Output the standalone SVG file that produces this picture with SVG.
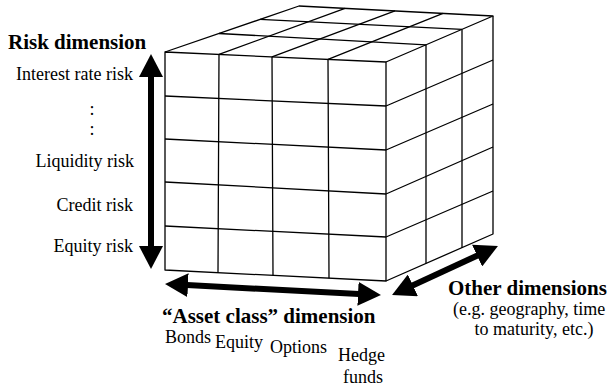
<svg xmlns="http://www.w3.org/2000/svg" width="610" height="389" viewBox="0 0 610 389">
<style>
  .g { fill: none; stroke: #000; stroke-width: 1.3; stroke-linejoin: round; }
  .t { font-family: 'Liberation Serif', 'DejaVu Serif', serif; font-size: 18px; font-weight: normal; fill: #000; }
  .b { font-family: 'Liberation Serif', 'DejaVu Serif', serif; font-size: 21px; font-weight: bold; fill: #000; }
  .a { stroke: #000; stroke-width: 6; fill: none; marker-start: url(#head); marker-end: url(#head); }
</style>
<defs>
  <marker id="head" viewBox="0 -12 23 24" refX="1" refY="0" markerWidth="23" markerHeight="24" markerUnits="userSpaceOnUse" orient="auto-start-reverse">
    <path d="M0,-12 L23,0 L0,12 z" fill="#000"/>
  </marker>
</defs>
<rect width="610" height="389" fill="#fff"/>

<g id="cube">
  <path class="g" d="M165,52 L386,62 L386,281 L165,270 Z"/>
  <path class="g" d="M165,96 L386,106 M165,139 L386,150 M165,182 L386,194 M165,226 L386,237"/>
  <path class="g" d="M219,54.4 L218,272.6 M272,56.8 L273,275.4 M328,59.4 L329,278.2"/>
  <path class="g" d="M165,52 L299,6 L493,16 L386,62"/>
  <path class="g" d="M219,33.5 L426,44.8 M260,19.4 L462,29.3"/>
  <path class="g" d="M219,54.4 L345,8.4 M272,56.8 L395,10.9 M328,59.4 L443,13.4"/>
  <path class="g" d="M493,16 L493,234 L386,281"/>
  <path class="g" d="M426,44.8 L426,263.6 M462,29.3 L462,247.9"/>
  <path class="g" d="M386,106 L493,60 M386,150 L493,104 M386,194 L493,147 M386,237 L493,191"/>
</g>

<g id="connectors">
  <line class="a" x1="151" y1="76" x2="151" y2="247"/>
  <line class="a" x1="187" y1="285.1" x2="359" y2="293.9"/>
  <line class="a" x1="412" y1="285.8" x2="478" y2="255.2"/>
</g>

<g id="risk-dimension">
  <text class="b" x="8" y="49">Risk dimension</text>
  <text class="t" x="133" y="80" text-anchor="end">Interest rate risk</text>
  <text class="t" x="92" y="115" text-anchor="middle">:</text>
  <text class="t" x="92" y="135" text-anchor="middle">:</text>
  <text class="t" x="134" y="167" text-anchor="end">Liquidity risk</text>
  <text class="t" x="133" y="211" text-anchor="end">Credit risk</text>
  <text class="t" x="133" y="252" text-anchor="end">Equity risk</text>
</g>

<g id="asset-class-dimension">
  <text class="b" x="162" y="323">“Asset class” dimension</text>
  <text class="t" x="165" y="343">Bonds</text>
  <text class="t" x="215" y="348">Equity</text>
  <text class="t" x="270" y="353">Options</text>
  <text class="t" x="338" y="361">Hedge</text>
  <text class="t" x="363" y="383" text-anchor="middle">funds</text>
</g>

<g id="other-dimensions">
  <text class="b" x="448" y="295">Other dimensions</text>
  <text class="t" x="453" y="315">(e.g. geography, time</text>
  <text class="t" x="534" y="335" text-anchor="middle">to maturity, etc.)</text>
</g>
</svg>
